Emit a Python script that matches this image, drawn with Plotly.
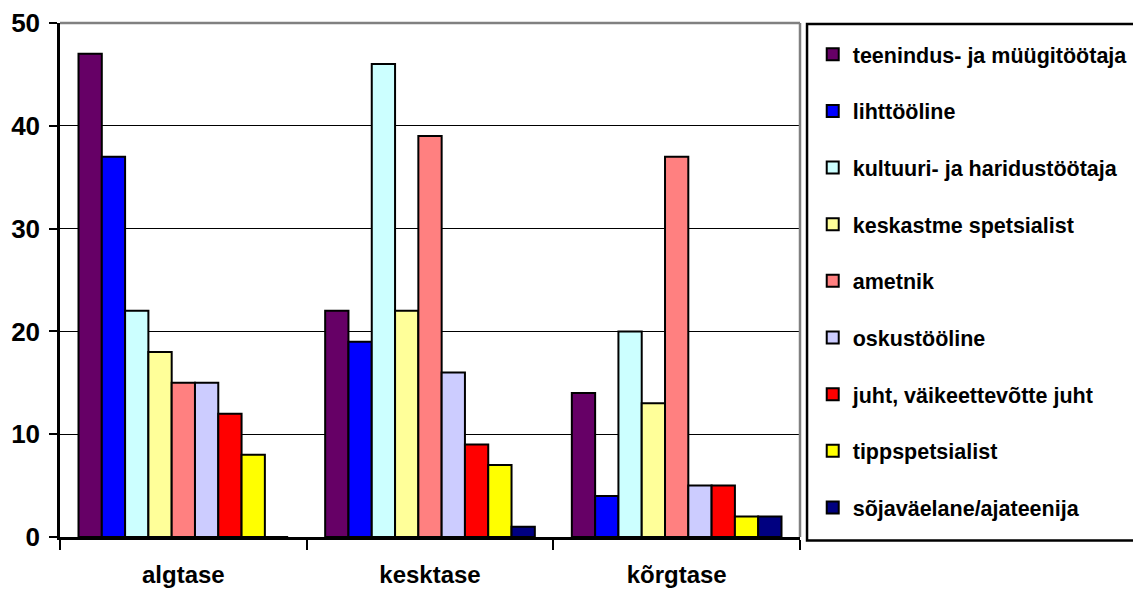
import plotly.graph_objects as go

categories = ["algtase", "kesktase", "kõrgtase"]
series_names = [
    "teenindus- ja müügitöötaja",
    "lihttööline",
    "kultuuri- ja haridustöötaja",
    "keskastme spetsialist",
    "ametnik",
    "oskustööline",
    "juht, väikeettevõtte juht",
    "tippspetsialist",
    "sõjaväelane/ajateenija",
]
teenindus = [47, 22, 14]
lihttooline = [37, 19, 4]
kultuur = [22, 46, 20]
keskastme = [18, 22, 13]
ametnik = [15, 39, 37]
oskustooline = [15, 16, 5]
juht = [12, 9, 5]
tipp = [8, 7, 2]
sojavae = [0, 1, 2]
series_values = [teenindus, lihttooline, kultuur, keskastme, ametnik,
                 oskustooline, juht, tipp, sojavae]
colors = ["#660066", "#0000FF", "#CCFFFF", "#FFFF99", "#FF8080",
          "#CCCCFF", "#FF0000", "#FFFF00", "#000080"]
y_ticks = [0, 10, 20, 30, 40, 50]

FONT = "Liberation Sans, Arial, sans-serif"

fig = go.Figure()
for i, (name, vals, col) in enumerate(zip(series_names, series_values, colors)):
    fig.add_trace(go.Bar(
        x=categories, y=vals, name=name,
        marker=dict(color=col, line=dict(color="black", width=2)),
        legendgroup=f"g{i}",
    ))

# page body has an 8px default margin, so the figure is sized/shifted to compensate
fig.update_layout(
    width=1133, height=583,
    margin=dict(l=52, r=341, t=15, b=54, autoexpand=False),
    paper_bgcolor="white", plot_bgcolor="white",
    barmode="group", bargap=0.15, bargroupgap=0,
    font=dict(family=FONT, color="black"),
    showlegend=True,
    legend=dict(
        x=1.0172, y=0.979, xanchor="left", yanchor="top",
        bgcolor="rgba(0,0,0,0)", borderwidth=0,
        font=dict(family=FONT, size=21.5, weight="bold", color="black"),
        traceorder="grouped", tracegroupgap=25.7,
        itemclick=False,
    ),
    xaxis=dict(
        type="category", automargin=False,
        showline=True, linecolor="black", linewidth=2.5,
        ticks="outside", tickson="boundaries", ticklen=10, tickwidth=2, tickcolor="black",
        tickfont=dict(family=FONT, size=24, weight="bold"),
        ticklabelstandoff=14,
        showgrid=False, zeroline=False,
    ),
    yaxis=dict(
        range=[0, 50], tickvals=y_ticks, automargin=False,
        showline=True, linecolor="black", linewidth=2.5,
        ticks="outside", ticklen=8, tickwidth=2, tickcolor="black",
        tickfont=dict(family=FONT, size=26, weight="bold"),
        ticklabelstandoff=4,
        showgrid=True, gridcolor="black", gridwidth=1.3,
        zeroline=False,
    ),
    shapes=[
        dict(type="line", xref="x domain", yref="y domain", x0=0, x1=1, y0=1, y1=1,
             line=dict(color="#808080", width=2.5)),
        dict(type="line", xref="x domain", yref="y domain", x0=1, x1=1, y0=0, y1=1,
             line=dict(color="#808080", width=2.5)),
        dict(type="rect", xref="paper", yref="paper", x0=1.0095, x1=1.48,
             y0=-0.007, y1=0.998, line=dict(color="black", width=2.5),
             fillcolor="rgba(0,0,0,0)"),
    ],
)

fig.write_html("out.html")
